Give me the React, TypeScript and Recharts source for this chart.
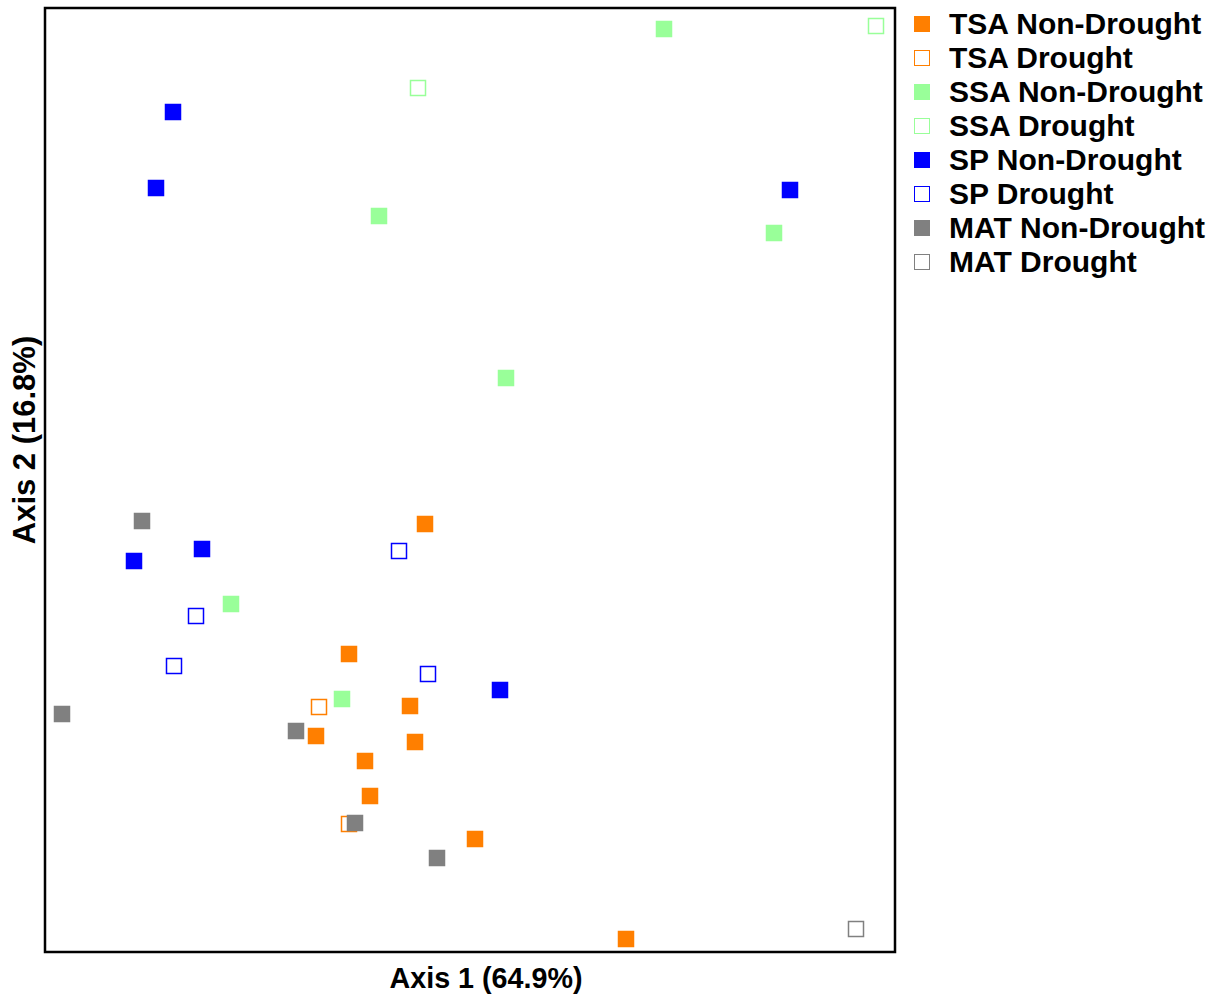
import React from 'react';
import { ScatterChart, Scatter, XAxis, YAxis, ReferenceArea } from 'recharts';

// Ordination scores (arbitrary axis units)
const tsaNonDrought = [
  { x: 380, y: 428 }, { x: 304, y: 298 }, { x: 365, y: 246 }, { x: 271, y: 216 },
  { x: 370, y: 210 }, { x: 320, y: 191 }, { x: 325, y: 156 }, { x: 430, y: 113 },
  { x: 581, y: 13 },
];
const tsaDrought = [{ x: 274, y: 245 }, { x: 304, y: 128 }];
const ssaNonDrought = [
  { x: 619, y: 923 }, { x: 334, y: 736 }, { x: 729, y: 719 }, { x: 461, y: 574 },
  { x: 186, y: 348 }, { x: 297, y: 253 },
];
const ssaDrought = [{ x: 831, y: 926 }, { x: 373, y: 864 }];
const spNonDrought = [
  { x: 128, y: 840 }, { x: 111, y: 764 }, { x: 745, y: 762 }, { x: 157, y: 403 },
  { x: 89, y: 391 }, { x: 455, y: 262 },
];
const spDrought = [{ x: 354, y: 401 }, { x: 151, y: 336 }, { x: 129, y: 286 }, { x: 383, y: 278 }];
const matNonDrought = [
  { x: 97, y: 431 }, { x: 17, y: 238 }, { x: 251, y: 221 }, { x: 310, y: 129 }, { x: 392, y: 94 },
];
const matDrought = [{ x: 811, y: 23 }];

const seriesNames = [
  'TSA Non-Drought', 'TSA Drought', 'SSA Non-Drought', 'SSA Drought',
  'SP Non-Drought', 'SP Drought', 'MAT Non-Drought', 'MAT Drought',
];
const seriesColors = ['#ff7f00', '#ff7f00', '#99ff99', '#99ff99', '#0000ff', '#0000ff', '#808080', '#808080'];
const seriesFilled = [true, false, true, false, true, false, true, false];
const seriesData = [tsaNonDrought, tsaDrought, ssaNonDrought, ssaDrought, spNonDrought, spDrought, matNonDrought, matDrought];

const xLabel = 'Axis 1 (64.9%)';
const yLabel = 'Axis 2 (16.8%)';

const FONT = '"Liberation Sans", Arial, Helvetica, sans-serif';

const makeShape = (color: string, filled: boolean) => (props: any) => {
  const { cx, cy } = props;
  if (cx == null || cy == null) return <g />;
  const s = 16.5;
  if (filled) {
    return <rect x={cx - s / 2} y={cy - s / 2} width={s} height={s} fill={color} />;
  }
  return (
    <rect x={cx - s / 2 + 0.75} y={cy - s / 2 + 0.75} width={s - 1.5} height={s - 1.5}
      fill="none" stroke={color} strokeWidth={1.5} />
  );
};

const LegendBlock = () => (
  <div style={{ position: 'absolute', left: 914, top: 7, fontFamily: FONT, fontWeight: 'bold', fontSize: 30, lineHeight: 1 }}>
    {seriesNames.map((n, i) => (
      <div key={n} style={{ height: 34, display: 'flex', alignItems: 'center', whiteSpace: 'nowrap' }}>
        <span style={{
          display: 'inline-block', width: 16, height: 16, boxSizing: 'border-box',
          background: seriesFilled[i] ? seriesColors[i] : '#fff',
          border: seriesFilled[i] ? 'none' : `1.5px solid ${seriesColors[i]}`,
          marginRight: 19,
        }} />
        <span>{n}</span>
      </div>
    ))}
  </div>
);

export default function App() {
  return (
    <div style={{ position: 'absolute', left: 0, top: 0, width: 1215, height: 996 }}>
      <ScatterChart width={1215} height={996} margin={{ top: 8, left: 0, right: 320, bottom: 0 }}>
        <XAxis type="number" dataKey="x" domain={[0, 850]} allowDataOverflow tick={false} tickLine={false}
          axisLine={false} height={44}
          label={(p: any) => {
            const vb = p.viewBox || {};
            return (
              <text x={(vb.x ?? 45) + 441} y={(vb.y ?? 952) + 36} textAnchor="middle"
                fontFamily={FONT} fontWeight="bold" fontSize={28.7} fill="#000">{xLabel}</text>
            );
          }} />
        <YAxis type="number" dataKey="y" domain={[0, 944]} allowDataOverflow tick={false} tickLine={false}
          axisLine={false} width={45}
          label={() => {
            const x = 35, y = 440;
            return (
              <text x={x} y={y} transform={`rotate(-90, ${x}, ${y})`} textAnchor="middle"
                fontFamily={FONT} fontWeight="bold" fontSize={31} fill="#000">{yLabel}</text>
            );
          }} />
        <ReferenceArea x1={0} x2={850} y1={0} y2={944} fill="none" stroke="#000" strokeWidth={2.5} ifOverflow="visible" />
        {seriesData.map((d, i) => (
          <Scatter key={seriesNames[i]} name={seriesNames[i]} data={d} isAnimationActive={false}
            shape={makeShape(seriesColors[i], seriesFilled[i])} />
        ))}
      </ScatterChart>
      <LegendBlock />
    </div>
  );
}
